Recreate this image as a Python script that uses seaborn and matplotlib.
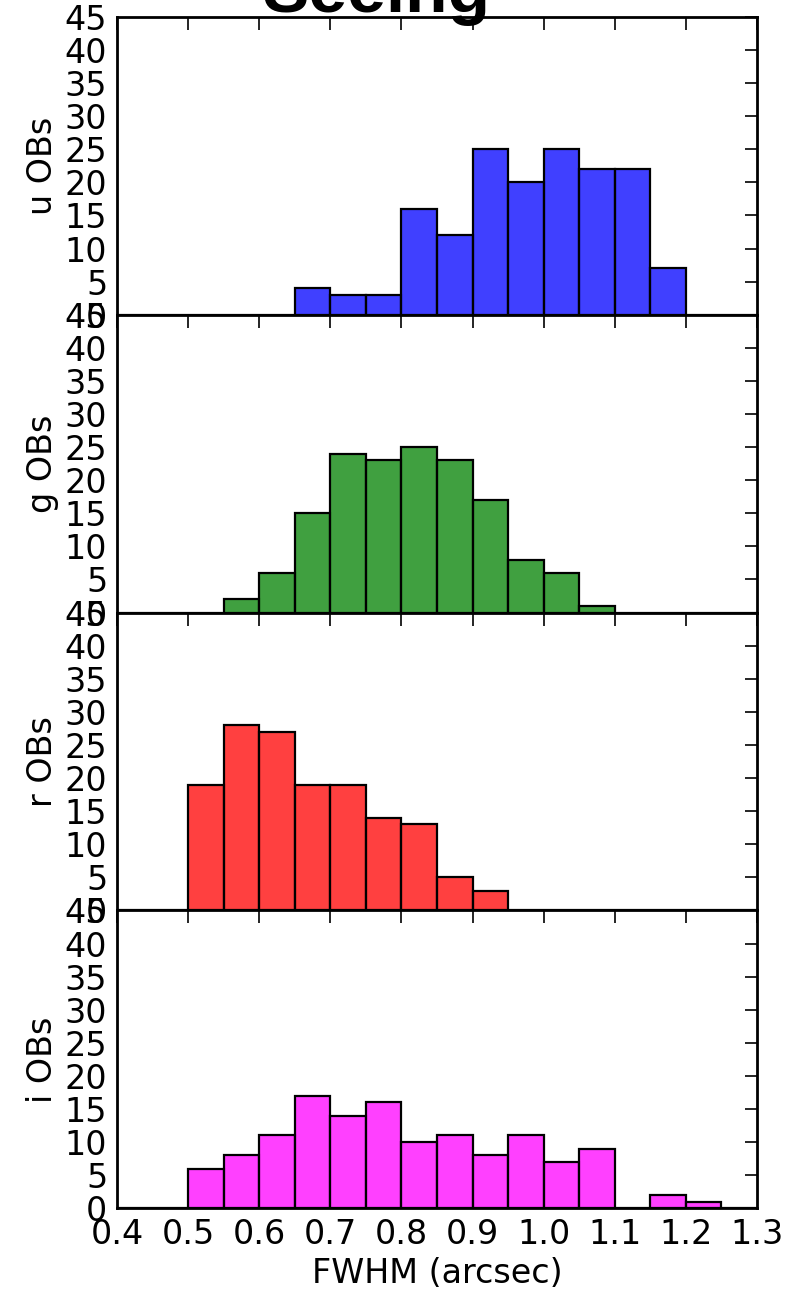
import numpy as np
import pandas as pd
import seaborn as sns
from matplotlib import pyplot as plt

# bin edges (0.05 arcsec wide), counts read per bin starting at the left edge
u_left = [0.65, 0.70, 0.75, 0.80, 0.85, 0.90, 0.95, 1.00, 1.05, 1.10, 1.15]
u_counts = [4, 3, 3, 16, 12, 25, 20, 25, 22, 22, 7]

g_left = [0.55, 0.60, 0.65, 0.70, 0.75, 0.80, 0.85, 0.90, 0.95, 1.00, 1.05]
g_counts = [2, 6, 15, 24, 23, 25, 23, 17, 8, 6, 1]

r_left = [0.50, 0.55, 0.60, 0.65, 0.70, 0.75, 0.80, 0.85, 0.90]
r_counts = [19, 28, 27, 19, 19, 14, 13, 5, 3]

i_left = [0.50, 0.55, 0.60, 0.65, 0.70, 0.75, 0.80, 0.85, 0.90, 0.95, 1.00, 1.05, 1.10, 1.15, 1.20]
i_counts = [6, 8, 11, 17, 14, 16, 10, 11, 8, 11, 7, 9, 0, 2, 1]

bands = ['u', 'g', 'r', 'i']
colors = ['blue', 'green', 'red', 'magenta']
x_ticks = [0.4, 0.5, 0.6, 0.7, 0.8, 0.9, 1.0, 1.1, 1.2, 1.3]
y_ticks = [0, 5, 10, 15, 20, 25, 30, 35, 40, 45]

sns.set_style('white')
plt.rcParams['font.family'] = ['DejaVu Sans']
plt.rcParams['text.color'] = 'black'
plt.rcParams['axes.labelcolor'] = 'black'

fig, axes = plt.subplots(4, 1, sharex=True, figsize=(7.93, 13.02), dpi=100)
fig.subplots_adjust(left=0.1475, right=0.9546, bottom=0.072, top=0.987, hspace=0)

data = {'u': (u_left, u_counts), 'g': (g_left, g_counts),
        'r': (r_left, r_counts), 'i': (i_left, i_counts)}
edges = [round(0.4 + 0.05 * k, 2) for k in range(19)]

for ax, band, col in zip(axes, bands, colors):
    left, counts = data[band]
    df = pd.DataFrame({'fwhm': np.array(left) + 0.025, 'n': counts})
    sns.histplot(data=df, x='fwhm', weights='n', bins=edges, ax=ax,
                 color=col, alpha=0.75, edgecolor='black', linewidth=1.6)
    ax.set_xlim(0.4, 1.3)
    ax.set_ylim(0, 45)
    ax.set_yticks(y_ticks)
    ax.set_xticks(x_ticks)
    ax.set_ylabel(band + ' OBs', fontsize=24, labelpad=4)
    ax.set_xlabel('')
    ax.tick_params(direction='in', length=9, width=1.2, top=True, right=True,
                   labelsize=24, pad=7, colors='black')
    for s in ax.spines.values():
        s.set_linewidth(2)
        s.set_color('black')

axes[-1].set_xticklabels([f'{t:.1f}' for t in x_ticks])
axes[-1].set_xlabel('FWHM (arcsec)', fontsize=24, labelpad=4)

fig.text(0.475, 1 - 12 / 1302, 'Seeing', ha='center', va='baseline',
         fontsize=50, fontweight='bold', family=['Liberation Sans', 'DejaVu Sans'])

fig.savefig('out.png', dpi=100)
